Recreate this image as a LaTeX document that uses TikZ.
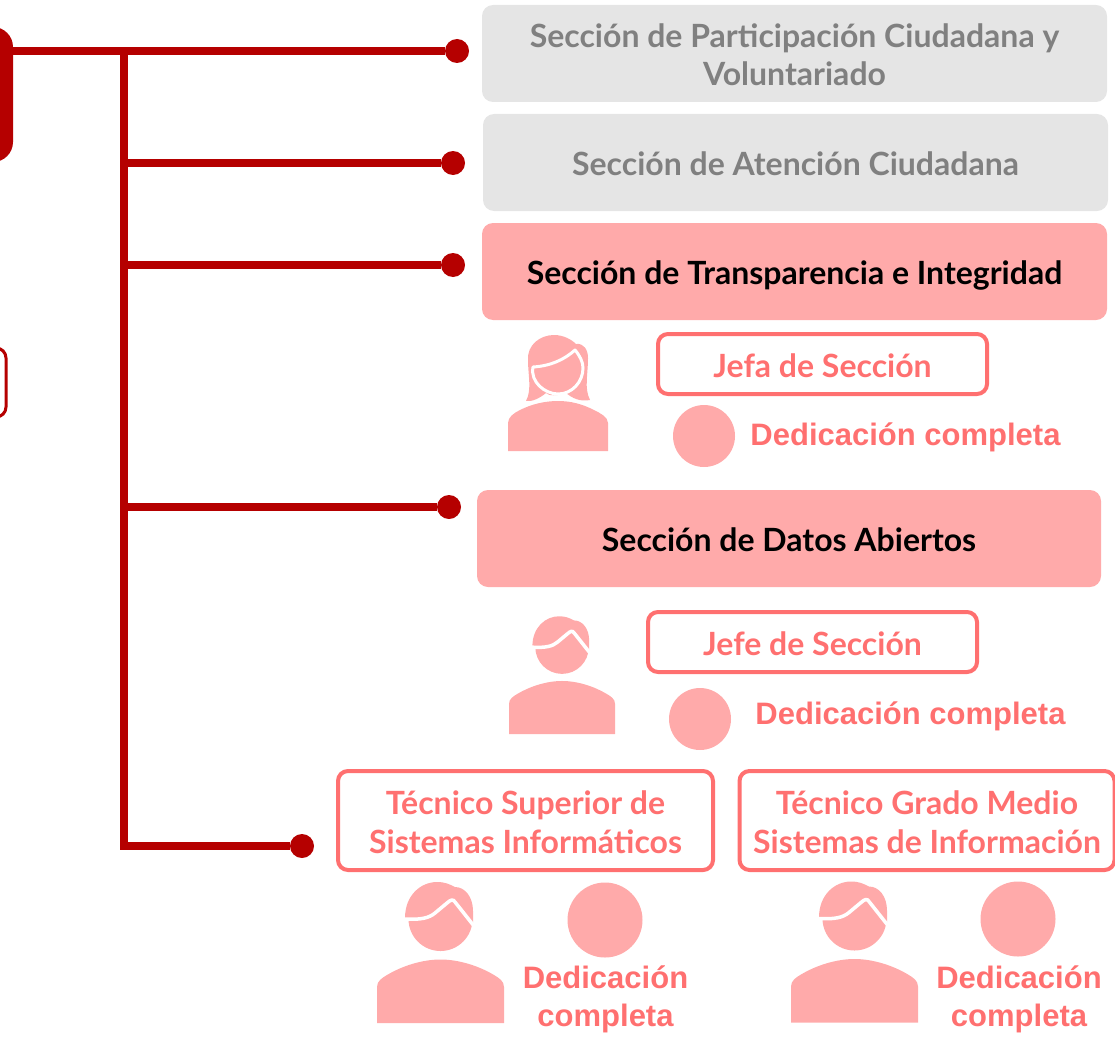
\documentclass[tikz,border=0pt]{standalone}
\usepackage{fontspec}
\setmainfont{Lato}
\newfontfamily\dedfont{Liberation Sans}
\definecolor{dred}{HTML}{B50000}
\definecolor{pinkf}{HTML}{FFAAAA}
\definecolor{salm}{HTML}{FF7070}
\definecolor{greyf}{HTML}{E5E5E5}
\definecolor{greyt}{HTML}{808080}
\tikzset{
  box/.style={rectangle,rounded corners=11pt,inner sep=0pt,align=center,font=\fontsize{32}{38}\selectfont\bfseries},
  greybox/.style={box,fill=greyf,text=greyt},
  pinkbox/.style={box,fill=pinkf,text=black},
  rolebox/.style={box,draw=salm,line width=4pt,fill=white,text=salm,rounded corners=10pt},
  dedtext/.style={inner sep=0pt,align=center,text=salm,font=\dedfont\fontsize{31}{38}\selectfont\bfseries},
  dotn/.style={circle,fill=dred,inner sep=0pt,minimum size=24pt},
  dedcirc/.style={circle,fill=pinkf,inner sep=0pt},
  conn/.style={draw=dred,line width=7.5pt},
  male/.pic={
    % local frame: origin at body bottom-left, width 127, height 141
    \fill[pinkf] (0,0) -- (0,36) .. controls (0,42) and (5,45) .. (10,48)
       .. controls (25,57) and (45,63.5) .. (63.5,63.5)
       .. controls (82,63.5) and (102,57) .. (117,48)
       .. controls (122,45) and (127,42) .. (127,36) -- (127,0) -- cycle;
    \fill[pinkf] (63.5,104) circle[radius=32];
    \fill[pinkf] (28,105) .. controls (28,128) and (44,141) .. (60,141)
       .. controls (68,141) and (72,139) .. (78,136)
       .. controls (88,136) and (96,126) .. (96,112) -- (96,98) -- (63,104) -- cycle;
    \draw[white,line width=3.5pt] (27,104) .. controls (44,103) and (52,105) .. (58,110)
       -- (70,120) .. controls (74,123.5) and (76,124) .. (78,121) -- (97,97);
  },
}
\begin{document}
\begin{tikzpicture}[x=1pt,y=-1pt]
\useasboundingbox (0,0) rectangle (1115,1038);
\clip (0,0) rectangle (1115,1038);
% left boxes
\node[rectangle,fill=dred,rounded corners=20pt,minimum width=113pt,minimum height=135pt,inner sep=0pt] (mainbox) at (-43.5,94.5) {};
\node[rectangle,draw=dred,line width=3pt,rounded corners=10pt,minimum width=100pt,minimum height=69pt,inner sep=0pt] (sidebox) at (-44,382.5) {};
% section boxes
\node[greybox,minimum width=625pt,minimum height=97pt] (s1) at (794.5,53.5) {\rule{0pt}{26pt}Sección de Participación Ciudadana y\\Voluntariado};
\node[greybox,minimum width=625pt,minimum height=97pt] (s2) at (795.5,162.5) {\rule{0pt}{27pt}Sección de Atención Ciudadana};
\node[pinkbox,minimum width=625pt,minimum height=97pt] (s3) at (794.5,271.5) {\rule{0pt}{32pt}Sección de Transparencia e Integridad};
\node[pinkbox,minimum width=624pt,minimum height=97pt] (s4) at (789,538.5) {\rule{0pt}{27pt}Sección de Datos Abiertos};
% dots and connectors
\coordinate (t0) at (13,51);
\coordinate (t1) at (124,51);
\coordinate (t2) at (124,163);
\coordinate (t3) at (124,265);
\coordinate (t4) at (124,507);
\coordinate (t5) at (124,846);
\node[dotn] (d1) at (457,51) {};
\node[dotn] (d2) at (453,163) {};
\node[dotn] (d3) at (453,265) {};
\node[dotn] (d4) at (449,507) {};
\node[dotn] (d5) at (302,846) {};
\draw[conn] (t0) -- (d1);
\draw[conn] (t2) -- (d2);
\draw[conn] (t3) -- (d3);
\draw[conn] (t4) -- (d4);
\draw[conn] (t5) -- (d5);
\draw[conn,line width=8pt,shorten <=-3.5pt,shorten >=-3.5pt] (t1) -- (t5);
% role boxes
\node[rolebox,minimum width=329pt,minimum height=60pt] (r1) at (822.5,364) {\rule{0pt}{27pt}Jefa de Sección};
\node[rolebox,minimum width=329pt,minimum height=60pt] (r2) at (812.5,642) {\rule{0pt}{27pt}Jefe de Sección};
\node[rolebox,minimum width=375pt,minimum height=99pt] (r3) at (525.5,820.5) {\rule{0pt}{28pt}Técnico Superior de\\[1pt]Sistemas Informáticos};
\node[rolebox,minimum width=375pt,minimum height=99pt] (r4) at (927,820.5) {\rule{0pt}{28pt}Técnico Grado Medio\\[1pt]Sistemas de Información};
% dedication circles
\node[dedcirc,minimum size=62pt] (c1) at (704,436) {};
\node[dedcirc,minimum size=62pt] (c2) at (700,719) {};
\node[dedcirc,minimum size=75pt] (c3) at (605,920) {};
\node[dedcirc,minimum size=75pt] (c4) at (1018,919) {};
\node[dedtext] (l1) at (905.5,437.5) {Dedicación completa};
\node[dedtext] (l2) at (910.5,716.5) {Dedicación completa};
\node[dedtext] (l3) at (605.5,999.5) {Dedicación\\completa};
\node[dedtext] (l4) at (1019,999) {Dedicación\\completa};
% male icons
\pic[yscale=-1] at (377,1023) {male};
\pic[yscale=-1] at (791,1022.5) {male};
\pic[scale=0.835,yscale=-1] at (509,734) {male};
% female icon
\fill[pinkf] (508,451) -- (508,423) .. controls (508,417) and (514,413) .. (520,410)
  .. controls (532,404) and (545,401) .. (558,401)
  .. controls (571,401) and (582,404) .. (594,410)
  .. controls (600,413) and (608,417) .. (608,423) -- (608,451) -- cycle;
\fill[pinkf] (526,401) .. controls (532,390) and (528,375) .. (528,360)
  .. controls (527,345) and (540,335) .. (554,335)
  .. controls (564,335) and (572,340) .. (576,344)
  .. controls (584,343) and (588,350) .. (588,358)
  .. controls (588,375) and (584,388) .. (590,400)
  .. controls (580,402) and (572,398) .. (566,393)
  .. controls (558,396) and (548,396) .. (546,393)
  .. controls (540,398) and (532,402) .. (526,401) -- cycle;
\draw[white,line width=3pt,line join=round] (533,367)
  .. controls (550,366) and (564,360) .. (575,350)
  .. controls (580,356) and (583,362) .. (583,368)
  .. controls (583,382) and (572,394) .. (558,394)
  .. controls (545,394) and (530,382) .. (533,367) -- cycle;
\end{tikzpicture}
\end{document}
